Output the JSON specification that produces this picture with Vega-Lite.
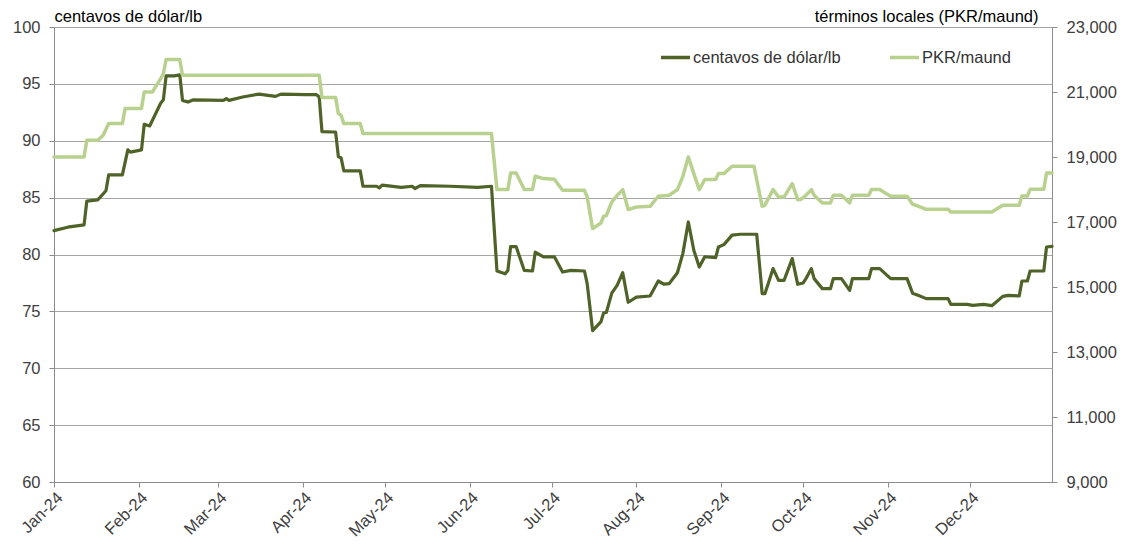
{
  "$schema": "https://vega.github.io/schema/vega-lite/v6.json",
  "width": 998,
  "height": 455,
  "autosize": {"type": "none"},
  "padding": {"left": 54, "top": 27, "right": 76, "bottom": 66},
  "background": "white",
  "config": {
    "view": {"stroke": null},
    "font": "Liberation Sans",
    "axis": {"labelFont": "Liberation Sans", "titleFont": "Liberation Sans", "labelColor": "#404040", "titleColor": "#000000", "titleFontWeight": "normal", "labelFontSize": 16.5, "titleFontSize": 16.5, "domainColor": "#8c8c8c", "tickColor": "#8c8c8c", "tickSize": 5, "gridColor": "#a6a6a6", "gridWidth": 1.2}
  },
  "datasets": {
    "usc": [
      {"date": "2024-01-01T00:00", "v": 82.1},
      {"date": "2024-01-06T00:00", "v": 82.4},
      {"date": "2024-01-12T00:00", "v": 82.6},
      {"date": "2024-01-13T00:00", "v": 84.7},
      {"date": "2024-01-17T00:00", "v": 84.8},
      {"date": "2024-01-20T00:00", "v": 85.6},
      {"date": "2024-01-21T00:00", "v": 87.0},
      {"date": "2024-01-26T00:00", "v": 87.0},
      {"date": "2024-01-28T00:00", "v": 89.2},
      {"date": "2024-01-29T00:00", "v": 89.0},
      {"date": "2024-02-02T00:00", "v": 89.2},
      {"date": "2024-02-03T00:00", "v": 91.45},
      {"date": "2024-02-05T00:00", "v": 91.3},
      {"date": "2024-02-09T00:00", "v": 93.3},
      {"date": "2024-02-10T00:00", "v": 93.6},
      {"date": "2024-02-11T00:00", "v": 95.7},
      {"date": "2024-02-14T00:00", "v": 95.7},
      {"date": "2024-02-16T00:00", "v": 95.8},
      {"date": "2024-02-17T00:00", "v": 93.55},
      {"date": "2024-02-19T00:00", "v": 93.4},
      {"date": "2024-02-21T00:00", "v": 93.6},
      {"date": "2024-03-03T00:00", "v": 93.55},
      {"date": "2024-03-04T00:00", "v": 93.7},
      {"date": "2024-03-05T00:00", "v": 93.55},
      {"date": "2024-03-10T00:00", "v": 93.85},
      {"date": "2024-03-16T00:00", "v": 94.1},
      {"date": "2024-03-22T00:00", "v": 93.9},
      {"date": "2024-03-24T00:00", "v": 94.1},
      {"date": "2024-04-02T00:00", "v": 94.05},
      {"date": "2024-04-06T00:00", "v": 94.05},
      {"date": "2024-04-07T00:00", "v": 93.85},
      {"date": "2024-04-08T00:00", "v": 90.8},
      {"date": "2024-04-12T00:00", "v": 90.77},
      {"date": "2024-04-13T00:00", "v": 90.75},
      {"date": "2024-04-14T00:00", "v": 88.6},
      {"date": "2024-04-15T00:00", "v": 88.5},
      {"date": "2024-04-16T00:00", "v": 87.35},
      {"date": "2024-04-22T00:00", "v": 87.35},
      {"date": "2024-04-23T00:00", "v": 86.0},
      {"date": "2024-04-28T00:00", "v": 86.0},
      {"date": "2024-04-29T00:00", "v": 85.85},
      {"date": "2024-04-30T00:00", "v": 86.1},
      {"date": "2024-05-07T00:00", "v": 85.9},
      {"date": "2024-05-11T00:00", "v": 86.0},
      {"date": "2024-05-12T00:00", "v": 85.8},
      {"date": "2024-05-14T00:00", "v": 86.05},
      {"date": "2024-05-25T00:00", "v": 86.0},
      {"date": "2024-06-04T00:00", "v": 85.9},
      {"date": "2024-06-09T00:00", "v": 86.0},
      {"date": "2024-06-11T00:00", "v": 78.55},
      {"date": "2024-06-14T00:00", "v": 78.3},
      {"date": "2024-06-15T00:00", "v": 78.6},
      {"date": "2024-06-16T00:00", "v": 80.7},
      {"date": "2024-06-18T00:00", "v": 80.7},
      {"date": "2024-06-21T00:00", "v": 78.6},
      {"date": "2024-06-24T00:00", "v": 78.55},
      {"date": "2024-06-25T00:00", "v": 80.2},
      {"date": "2024-06-28T00:00", "v": 79.8},
      {"date": "2024-07-02T00:00", "v": 79.8},
      {"date": "2024-07-05T00:00", "v": 78.46},
      {"date": "2024-07-08T00:00", "v": 78.6},
      {"date": "2024-07-13T00:00", "v": 78.55},
      {"date": "2024-07-14T00:00", "v": 77.44},
      {"date": "2024-07-16T00:00", "v": 73.3},
      {"date": "2024-07-19T00:00", "v": 74.07},
      {"date": "2024-07-20T00:00", "v": 74.86},
      {"date": "2024-07-21T00:00", "v": 74.9},
      {"date": "2024-07-23T00:00", "v": 76.6},
      {"date": "2024-07-25T00:00", "v": 77.3},
      {"date": "2024-07-27T00:00", "v": 78.4},
      {"date": "2024-07-29T00:00", "v": 75.8},
      {"date": "2024-08-01T00:00", "v": 76.26},
      {"date": "2024-08-06T00:00", "v": 76.35},
      {"date": "2024-08-09T00:00", "v": 77.67},
      {"date": "2024-08-11T00:00", "v": 77.4},
      {"date": "2024-08-13T00:00", "v": 77.44},
      {"date": "2024-08-16T00:00", "v": 78.4},
      {"date": "2024-08-18T00:00", "v": 80.1},
      {"date": "2024-08-20T00:00", "v": 82.86},
      {"date": "2024-08-22T00:00", "v": 80.37},
      {"date": "2024-08-24T00:00", "v": 78.9},
      {"date": "2024-08-26T00:00", "v": 79.8},
      {"date": "2024-08-30T00:00", "v": 79.73},
      {"date": "2024-08-31T00:00", "v": 80.66},
      {"date": "2024-09-02T00:00", "v": 80.87},
      {"date": "2024-09-05T00:00", "v": 81.7},
      {"date": "2024-09-08T00:00", "v": 81.78},
      {"date": "2024-09-14T00:00", "v": 81.78},
      {"date": "2024-09-16T00:00", "v": 76.56},
      {"date": "2024-09-17T00:00", "v": 76.56},
      {"date": "2024-09-20T00:00", "v": 78.76},
      {"date": "2024-09-22T00:00", "v": 77.73},
      {"date": "2024-09-24T00:00", "v": 77.73},
      {"date": "2024-09-27T00:00", "v": 79.64},
      {"date": "2024-09-29T00:00", "v": 77.38},
      {"date": "2024-10-01T00:00", "v": 77.5},
      {"date": "2024-10-02T00:00", "v": 77.88},
      {"date": "2024-10-04T00:00", "v": 78.76},
      {"date": "2024-10-05T00:00", "v": 77.88},
      {"date": "2024-10-08T00:00", "v": 77.0},
      {"date": "2024-10-11T00:00", "v": 77.0},
      {"date": "2024-10-12T00:00", "v": 77.88},
      {"date": "2024-10-15T00:00", "v": 77.88},
      {"date": "2024-10-18T00:00", "v": 76.85},
      {"date": "2024-10-19T00:00", "v": 77.88},
      {"date": "2024-10-25T00:00", "v": 77.88},
      {"date": "2024-10-26T00:00", "v": 78.76},
      {"date": "2024-10-29T00:00", "v": 78.76},
      {"date": "2024-10-31T00:00", "v": 78.32},
      {"date": "2024-11-02T00:00", "v": 77.88},
      {"date": "2024-11-08T00:00", "v": 77.88},
      {"date": "2024-11-10T00:00", "v": 76.6},
      {"date": "2024-11-12T00:00", "v": 76.41},
      {"date": "2024-11-15T00:00", "v": 76.12},
      {"date": "2024-11-23T00:00", "v": 76.12},
      {"date": "2024-11-24T00:00", "v": 75.62},
      {"date": "2024-11-30T00:00", "v": 75.62},
      {"date": "2024-12-02T00:00", "v": 75.53},
      {"date": "2024-12-06T00:00", "v": 75.62},
      {"date": "2024-12-09T00:00", "v": 75.5},
      {"date": "2024-12-13T00:00", "v": 76.32},
      {"date": "2024-12-15T00:00", "v": 76.41},
      {"date": "2024-12-19T00:00", "v": 76.35},
      {"date": "2024-12-20T00:00", "v": 77.67},
      {"date": "2024-12-22T00:00", "v": 77.67},
      {"date": "2024-12-23T00:00", "v": 78.55},
      {"date": "2024-12-28T00:00", "v": 78.55},
      {"date": "2024-12-29T00:00", "v": 80.66},
      {"date": "2024-12-31T00:00", "v": 80.72}
    ],
    "pkr": [
      {"date": "2024-01-01T00:00", "v": 19000},
      {"date": "2024-01-12T00:00", "v": 19000},
      {"date": "2024-01-13T00:00", "v": 19513},
      {"date": "2024-01-17T00:00", "v": 19513},
      {"date": "2024-01-19T00:00", "v": 19668},
      {"date": "2024-01-21T00:00", "v": 20028},
      {"date": "2024-01-26T00:00", "v": 20028},
      {"date": "2024-01-27T00:00", "v": 20490},
      {"date": "2024-02-02T00:00", "v": 20490},
      {"date": "2024-02-03T00:00", "v": 21000},
      {"date": "2024-02-06T00:00", "v": 21000},
      {"date": "2024-02-09T00:00", "v": 21412},
      {"date": "2024-02-10T00:00", "v": 21566},
      {"date": "2024-02-11T00:00", "v": 22000},
      {"date": "2024-02-16T00:00", "v": 22000},
      {"date": "2024-02-17T00:00", "v": 21514},
      {"date": "2024-04-07T00:00", "v": 21514},
      {"date": "2024-04-08T00:00", "v": 20828},
      {"date": "2024-04-13T00:00", "v": 20828},
      {"date": "2024-04-14T00:00", "v": 20335},
      {"date": "2024-04-15T00:00", "v": 20283},
      {"date": "2024-04-16T00:00", "v": 20028},
      {"date": "2024-04-22T00:00", "v": 20028},
      {"date": "2024-04-23T00:00", "v": 19720},
      {"date": "2024-06-09T00:00", "v": 19720},
      {"date": "2024-06-11T00:00", "v": 18000},
      {"date": "2024-06-15T00:00", "v": 18000},
      {"date": "2024-06-16T00:00", "v": 18508},
      {"date": "2024-06-18T00:00", "v": 18508},
      {"date": "2024-06-21T00:00", "v": 18000},
      {"date": "2024-06-24T00:00", "v": 18000},
      {"date": "2024-06-25T00:00", "v": 18406},
      {"date": "2024-06-28T00:00", "v": 18335},
      {"date": "2024-07-02T00:00", "v": 18314},
      {"date": "2024-07-05T00:00", "v": 17975},
      {"date": "2024-07-13T00:00", "v": 17975},
      {"date": "2024-07-14T00:00", "v": 17769},
      {"date": "2024-07-16T00:00", "v": 16797},
      {"date": "2024-07-19T00:00", "v": 16969},
      {"date": "2024-07-20T00:00", "v": 17175},
      {"date": "2024-07-21T00:00", "v": 17200},
      {"date": "2024-07-23T00:00", "v": 17615},
      {"date": "2024-07-25T00:00", "v": 17822},
      {"date": "2024-07-27T00:00", "v": 17997},
      {"date": "2024-07-29T00:00", "v": 17382},
      {"date": "2024-08-01T00:00", "v": 17462},
      {"date": "2024-08-06T00:00", "v": 17483},
      {"date": "2024-08-09T00:00", "v": 17792},
      {"date": "2024-08-13T00:00", "v": 17822},
      {"date": "2024-08-16T00:00", "v": 17997},
      {"date": "2024-08-18T00:00", "v": 18406},
      {"date": "2024-08-20T00:00", "v": 19000},
      {"date": "2024-08-22T00:00", "v": 18489},
      {"date": "2024-08-24T00:00", "v": 17997},
      {"date": "2024-08-26T00:00", "v": 18305},
      {"date": "2024-08-30T00:00", "v": 18305},
      {"date": "2024-08-31T00:00", "v": 18489},
      {"date": "2024-09-02T00:00", "v": 18489},
      {"date": "2024-09-05T00:00", "v": 18714},
      {"date": "2024-09-13T00:00", "v": 18714},
      {"date": "2024-09-16T00:00", "v": 17483},
      {"date": "2024-09-17T00:00", "v": 17520},
      {"date": "2024-09-20T00:00", "v": 17997},
      {"date": "2024-09-22T00:00", "v": 17769},
      {"date": "2024-09-24T00:00", "v": 17769},
      {"date": "2024-09-27T00:00", "v": 18180},
      {"date": "2024-09-29T00:00", "v": 17688},
      {"date": "2024-09-30T00:00", "v": 17689},
      {"date": "2024-10-02T00:00", "v": 17822},
      {"date": "2024-10-04T00:00", "v": 17997},
      {"date": "2024-10-05T00:00", "v": 17822},
      {"date": "2024-10-08T00:00", "v": 17585},
      {"date": "2024-10-11T00:00", "v": 17585},
      {"date": "2024-10-12T00:00", "v": 17822},
      {"date": "2024-10-15T00:00", "v": 17822},
      {"date": "2024-10-18T00:00", "v": 17585},
      {"date": "2024-10-19T00:00", "v": 17822},
      {"date": "2024-10-25T00:00", "v": 17822},
      {"date": "2024-10-26T00:00", "v": 17997},
      {"date": "2024-10-29T00:00", "v": 17997},
      {"date": "2024-10-31T00:00", "v": 17893},
      {"date": "2024-11-02T00:00", "v": 17792},
      {"date": "2024-11-08T00:00", "v": 17792},
      {"date": "2024-11-10T00:00", "v": 17545},
      {"date": "2024-11-12T00:00", "v": 17492},
      {"date": "2024-11-15T00:00", "v": 17391},
      {"date": "2024-11-23T00:00", "v": 17391},
      {"date": "2024-11-24T00:00", "v": 17308},
      {"date": "2024-12-09T00:00", "v": 17308},
      {"date": "2024-12-13T00:00", "v": 17514},
      {"date": "2024-12-19T00:00", "v": 17514},
      {"date": "2024-12-20T00:00", "v": 17800},
      {"date": "2024-12-22T00:00", "v": 17800},
      {"date": "2024-12-23T00:00", "v": 18006},
      {"date": "2024-12-28T00:00", "v": 18006},
      {"date": "2024-12-29T00:00", "v": 18508},
      {"date": "2024-12-31T00:00", "v": 18508}
    ]
  },
  "encoding": {
    "x": {
      "field": "date",
      "type": "temporal",
      "scale": {"domain": [{"year": 2024, "month": 1, "date": 1}, {"year": 2024, "month": 12, "date": 31}]},
      "axis": {
        "title": null,
        "format": "%b-%y",
        "labelAngle": -45,
        "labelAlign": "right",
        "labelBaseline": "top",
        "labelPadding": 2,
        "grid": false,
        "labelOverlap": false,
        "values": [
          {"year": 2024, "month": 1, "date": 1},
          {"year": 2024, "month": 2, "date": 1},
          {"year": 2024, "month": 3, "date": 1},
          {"year": 2024, "month": 4, "date": 1},
          {"year": 2024, "month": 5, "date": 1},
          {"year": 2024, "month": 6, "date": 1},
          {"year": 2024, "month": 7, "date": 1},
          {"year": 2024, "month": 8, "date": 1},
          {"year": 2024, "month": 9, "date": 1},
          {"year": 2024, "month": 10, "date": 1},
          {"year": 2024, "month": 11, "date": 1},
          {"year": 2024, "month": 12, "date": 1}
        ]
      }
    }
  },
  "layer": [
    {
      "data": {"name": "usc"},
      "mark": {"type": "line", "strokeWidth": 3.2, "strokeJoin": "round", "strokeCap": "round"},
      "encoding": {
        "y": {
          "field": "v",
          "type": "quantitative",
          "scale": {"domain": [60, 100], "zero": false, "nice": false},
          "axis": {
            "title": "centavos de dólar/lb",
            "titleAngle": 0,
            "titleX": 0,
            "titleY": -6,
            "titleAlign": "left",
            "titleBaseline": "alphabetic",
            "values": [60, 65, 70, 75, 80, 85, 90, 95, 100],
            "labelPadding": 9,
            "grid": true
          }
        },
        "color": {
          "datum": "centavos de dólar/lb",
          "type": "nominal",
          "scale": {"domain": ["centavos de dólar/lb", "PKR/maund"], "range": ["#4f6228", "#b9d18f"]},
          "legend": {
            "title": null,
            "orient": "none",
            "legendX": 605,
            "legendY": 14,
            "direction": "horizontal",
            "symbolType": "stroke",
            "symbolSize": 841,
            "symbolStrokeWidth": 3.5,
            "labelFont": "Liberation Sans",
            "labelFontSize": 16.5,
            "labelColor": "#333333",
            "labelOffset": 1,
            "columnPadding": 42,
            "padding": 0
          }
        }
      }
    },
    {
      "data": {"name": "pkr"},
      "mark": {"type": "line", "strokeWidth": 3.5, "strokeJoin": "round", "strokeCap": "round"},
      "encoding": {
        "y": {
          "field": "v",
          "type": "quantitative",
          "scale": {"domain": [9000, 23000], "zero": false, "nice": false},
          "axis": {
            "orient": "right",
            "title": "términos locales (PKR/maund)",
            "titleAngle": 0,
            "titleX": -14,
            "titleY": -6,
            "titleAlign": "right",
            "titleBaseline": "alphabetic",
            "values": [9000, 11000, 13000, 15000, 17000, 19000, 21000, 23000],
            "format": ",.0f",
            "labelPadding": 9,
            "grid": false
          }
        },
        "color": {"datum": "PKR/maund", "type": "nominal"}
      }
    }
  ],
  "resolve": {"scale": {"y": "independent"}, "axis": {"y": "independent"}}
}
